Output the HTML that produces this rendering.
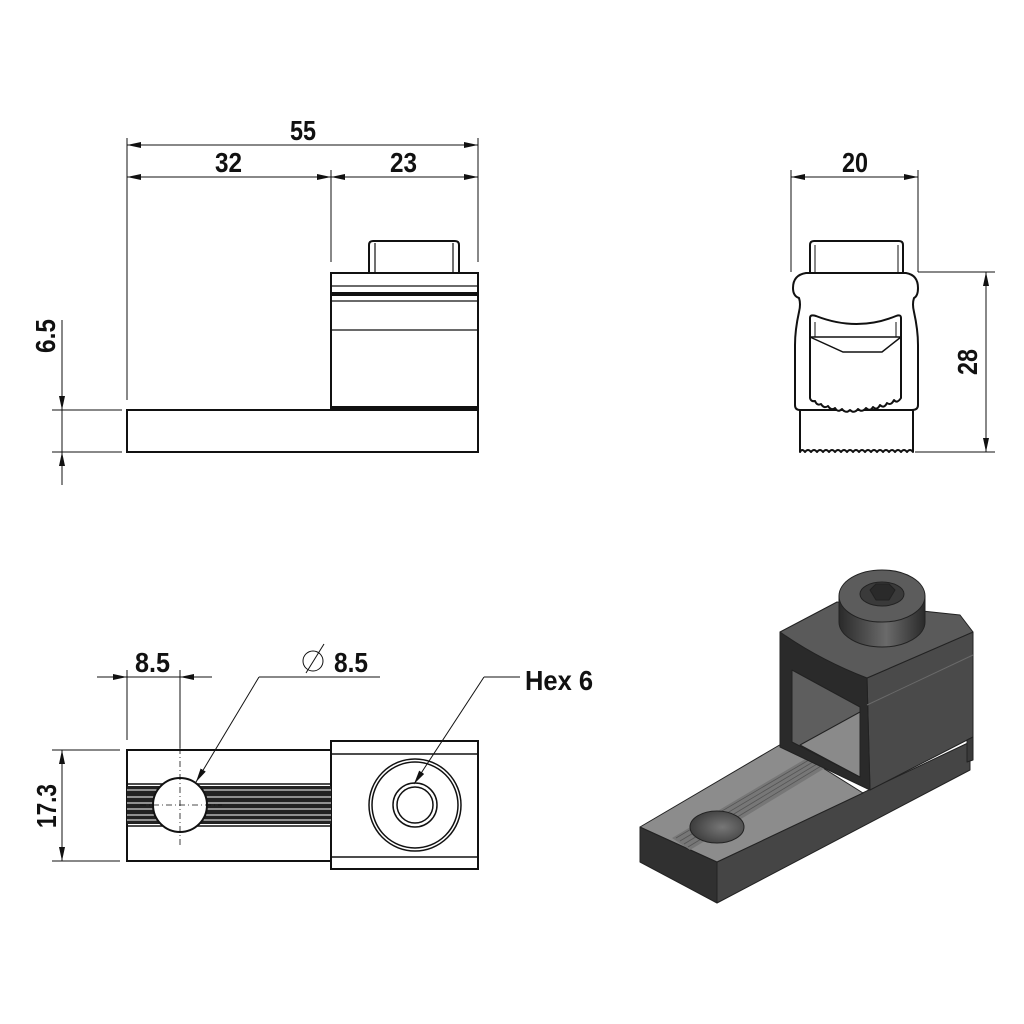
<!DOCTYPE html>
<html><head><meta charset="utf-8"><style>
html,body{margin:0;padding:0;background:#fff;}
svg{display:block}
text{font-family:"Liberation Sans Narrow","Liberation Sans",sans-serif;font-weight:bold;fill:#111;}
</style></head><body>
<svg width="1024" height="1024" viewBox="0 0 1024 1024" xmlns="http://www.w3.org/2000/svg">
<defs>
<marker id="a" viewBox="0 0 14 6" refX="14" refY="3" markerWidth="14" markerHeight="6" orient="auto-start-reverse" markerUnits="userSpaceOnUse"><path d="M0,0 L14,3 L0,6 z" fill="#111"/></marker>
<linearGradient id="cyl" x1="0" x2="1"><stop offset="0" stop-color="#2a2a2a"/><stop offset="0.55" stop-color="#6a6a6a"/><stop offset="1" stop-color="#2a2a2a"/></linearGradient>
<radialGradient id="hole" cx="0.6" cy="0.5" r="0.7"><stop offset="0" stop-color="#777"/><stop offset="1" stop-color="#333"/></radialGradient>
</defs>
<g stroke="#111" fill="none" stroke-width="1">
<line x1="127" y1="138" x2="127" y2="400"/>
<line x1="331" y1="170" x2="331" y2="262"/>
<line x1="478" y1="138" x2="478" y2="262"/>
<line x1="127" y1="145" x2="478" y2="145" marker-start="url(#a)" marker-end="url(#a)"/>
<line x1="127" y1="177" x2="331" y2="177" marker-start="url(#a)" marker-end="url(#a)"/>
<line x1="331" y1="177" x2="478" y2="177" marker-start="url(#a)" marker-end="url(#a)"/>
<line x1="52" y1="410" x2="122" y2="410"/>
<line x1="52" y1="452" x2="122" y2="452"/>
<line x1="62" y1="320" x2="62" y2="410" marker-end="url(#a)"/>
<line x1="62" y1="485" x2="62" y2="452" marker-end="url(#a)"/>
<line x1="62" y1="410" x2="62" y2="452"/>
</g>
<g stroke="#111" fill="#fff" stroke-width="2">
<rect x="127" y="410" width="351" height="42"/>
<path d="M369,273 V245 Q369,241 373,241 H455 Q459,241 459,245 V273" />
<rect x="331" y="273" width="147" height="137"/>
</g>
<g stroke="#111" stroke-width="1.2">
<line x1="375" y1="243" x2="375" y2="273"/><line x1="453" y1="243" x2="453" y2="273"/>
<line x1="331" y1="286" x2="478" y2="286"/>
<line x1="331" y1="294" x2="478" y2="294" stroke-width="4"/>
<line x1="331" y1="301" x2="478" y2="301"/>
<line x1="331" y1="330" x2="478" y2="330"/>
<line x1="331" y1="408" x2="478" y2="408" stroke-width="4"/>
</g>
<text x="290" y="140" font-size="28" textLength="26" lengthAdjust="spacingAndGlyphs">55</text>
<text x="215" y="172" font-size="28" textLength="27" lengthAdjust="spacingAndGlyphs">32</text>
<text x="390" y="172" font-size="28" textLength="27" lengthAdjust="spacingAndGlyphs">23</text>
<text transform="translate(55,353) rotate(-90)" font-size="28" textLength="34" lengthAdjust="spacingAndGlyphs">6.5</text>

<!-- SIDE VIEW -->
<g stroke="#111" fill="none" stroke-width="1">
<line x1="791" y1="170" x2="791" y2="272"/>
<line x1="918" y1="170" x2="918" y2="272"/>
<line x1="791" y1="177" x2="918" y2="177" marker-start="url(#a)" marker-end="url(#a)"/>
<line x1="918" y1="272" x2="995" y2="272"/>
<line x1="915" y1="452" x2="995" y2="452"/>
<line x1="986" y1="272" x2="986" y2="452" marker-start="url(#a)" marker-end="url(#a)"/>
</g>
<text x="842" y="172" font-size="28" textLength="26" lengthAdjust="spacingAndGlyphs">20</text>
<text transform="translate(977,375) rotate(-90)" font-size="28" textLength="26" lengthAdjust="spacingAndGlyphs">28</text>
<g stroke="#111" fill="#fff" stroke-width="2" stroke-linejoin="round">
<path d="M810,272 V245 Q810,241 814,241 H899 Q903,241 903,245 V272"/>
<path d="M800,410 H913 V452 Q910,448 907,452 Q904,448 901,452 Q898,448 895,452 Q892,448 889,452 Q886,448 883,452 Q880,448 877,452 Q874,448 871,452 Q868,448 865,452 Q862,448 859,452 Q856,448 853,452 Q850,448 847,452 Q844,448 841,452 Q838,448 835,452 Q832,448 829,452 Q826,448 823,452 Q820,448 817,452 Q814,448 811,452 Q808,448 805,452 Q802,448 800,452 Z"/>
<path d="M806,273 H906 Q918,275 918,288 Q918,296 914,298 Q912,304 914,312 Q918,330 918,345 V405 Q918,410 912,410 H800 Q795,410 795,405 V345 Q795,330 799,312 Q801,304 799,298 Q793,296 793,288 Q793,275 806,273 Z"/>
<path d="M810,318 Q810,314 816,316 Q857,332 896,316 Q901,314 901,318 V398 Q897,404 894,400 Q891,406 887,403 Q884,409 880,405 Q877,411 873,407 Q870,412 866,408 Q862,413 858,409 Q854,414 850,410 Q846,414 842,409 Q838,413 835,408 Q831,411 828,406 Q824,409 821,404 Q817,406 815,401 Q811,402 810,398 Z"/>
</g>
<g stroke="#111" stroke-width="1.5" fill="none">
<line x1="810" y1="337" x2="901" y2="337"/>
<path d="M810,337 L843,352 H882 L901,337"/>
<line x1="815" y1="245" x2="815" y2="272" stroke-width="1"/><line x1="898" y1="245" x2="898" y2="272" stroke-width="1"/>
<line x1="815" y1="322" x2="815" y2="337" stroke-width="1"/><line x1="896" y1="322" x2="896" y2="337" stroke-width="1"/>
</g>

<!-- TOP VIEW -->
<g stroke="#111" fill="#fff" stroke-width="2">
<rect x="127" y="750" width="204" height="111"/>
<rect x="331" y="741" width="147" height="128"/>
</g>
<rect x="127" y="786" width="204" height="38" fill="#222"/>
<g stroke="#fff" stroke-width="1">
<line x1="127" y1="790" x2="331" y2="790"/><line x1="127" y1="797" x2="331" y2="797"/>
<line x1="127" y1="803" x2="331" y2="803"/><line x1="127" y1="809" x2="331" y2="809"/>
<line x1="127" y1="815" x2="331" y2="815"/><line x1="127" y1="820" x2="331" y2="820"/>
</g>
<g stroke="#111" fill="none" stroke-width="1.5">
<line x1="331" y1="754" x2="478" y2="754"/><line x1="331" y1="857" x2="478" y2="857"/>
<line x1="127" y1="784" x2="331" y2="784"/><line x1="127" y1="826" x2="331" y2="826"/>
<circle cx="180" cy="805" r="27" fill="#fff" stroke-width="2"/>
<circle cx="415" cy="805" r="46"/><circle cx="415" cy="805" r="43"/>
<circle cx="415" cy="805" r="22"/><circle cx="415" cy="805" r="18"/>
</g>
<g stroke="#111" stroke-width="0.8" stroke-dasharray="6,3,1,3" fill="none">
<line x1="180" y1="748" x2="180" y2="848"/>
<line x1="140" y1="805" x2="222" y2="805"/>
</g>
<g stroke="#111" fill="none" stroke-width="1">
<line x1="127" y1="670" x2="127" y2="740"/>
<line x1="180" y1="670" x2="180" y2="748"/>
<line x1="97" y1="677" x2="127" y2="677" marker-end="url(#a)"/>
<line x1="212" y1="677" x2="180" y2="677" marker-end="url(#a)"/>
<line x1="127" y1="677" x2="180" y2="677"/>
<line x1="380" y1="677" x2="259" y2="677"/>
<line x1="259" y1="677" x2="196" y2="782" marker-end="url(#a)"/>
<line x1="520" y1="677" x2="484" y2="677"/>
<line x1="484" y1="677" x2="414" y2="784" marker-end="url(#a)"/>
<line x1="52" y1="750" x2="120" y2="750"/>
<line x1="52" y1="861" x2="120" y2="861"/>
<line x1="62" y1="750" x2="62" y2="861" marker-start="url(#a)" marker-end="url(#a)"/>
<circle cx="313" cy="661" r="10"/><line x1="306" y1="673" x2="324" y2="644"/>
</g>
<text x="135" y="672" font-size="28" textLength="35" lengthAdjust="spacingAndGlyphs">8.5</text>
<text x="334" y="672" font-size="28" textLength="34" lengthAdjust="spacingAndGlyphs">8.5</text>
<text x="525" y="690" font-size="28" textLength="68" lengthAdjust="spacingAndGlyphs">Hex 6</text>
<text transform="translate(56,828) rotate(-90)" font-size="28" textLength="44" lengthAdjust="spacingAndGlyphs">17.3</text>

<!-- 3D VIEW -->
<g stroke="#222" stroke-width="1" stroke-linejoin="round">
<path d="M717,862 L970,742 L970,770 L717,903 Z" fill="#454545"/>
<path d="M640,827 L717,862 L717,903 L640,862 Z" fill="#303030"/>
<path d="M640,827 L783,743 L863,793 L717,862 Z" fill="#8c8c8c"/>
<path d="M672,838 L812,755 L830,765 L690,850 Z" fill="#777" stroke="none"/>
<g stroke="#555" stroke-width="0.8">
<line x1="676" y1="838" x2="814" y2="757"/><line x1="680" y1="841" x2="818" y2="759"/>
<line x1="684" y1="844" x2="822" y2="761"/><line x1="688" y1="847" x2="826" y2="763"/>
</g>
<ellipse cx="717" cy="827" rx="27" ry="16" fill="url(#hole)"/>
<path d="M867,678 L973,632 L973,737 L870,790 Z" fill="#4a4a4a"/>
<path d="M967,740 L973,737 L973,760 L967,762 Z" fill="#3a3a3a"/>
<path d="M780,632 L867,678 L870,790 L780,747 Z" fill="#2a2a2a"/>
<path d="M792,670 L860,707 L860,777 L792,742 Z" fill="#5e5e5e"/>
<path d="M800,745 L860,712 L860,777 Z" fill="#8a8a8a"/>
<path d="M780,632 L837,602 L960,615 L973,632 L867,678 Q820,660 780,632 Z" fill="#5a5a5a"/>
<line x1="867" y1="705" x2="973" y2="655" stroke="#6a6a6a"/>
<path d="M839,596 V622 A43,25 0 0 0 925,622 V596 Z" fill="url(#cyl)"/>
<ellipse cx="882" cy="596" rx="43" ry="26" fill="#5c5c5c"/>
<ellipse cx="882" cy="594" rx="22" ry="12" fill="#3a3a3a"/>
<path d="M870,590 L876,584 L889,584 L895,590 L889,600 L876,600 Z" fill="#2a2a2a"/>
</g>
</svg>
</body></html>
